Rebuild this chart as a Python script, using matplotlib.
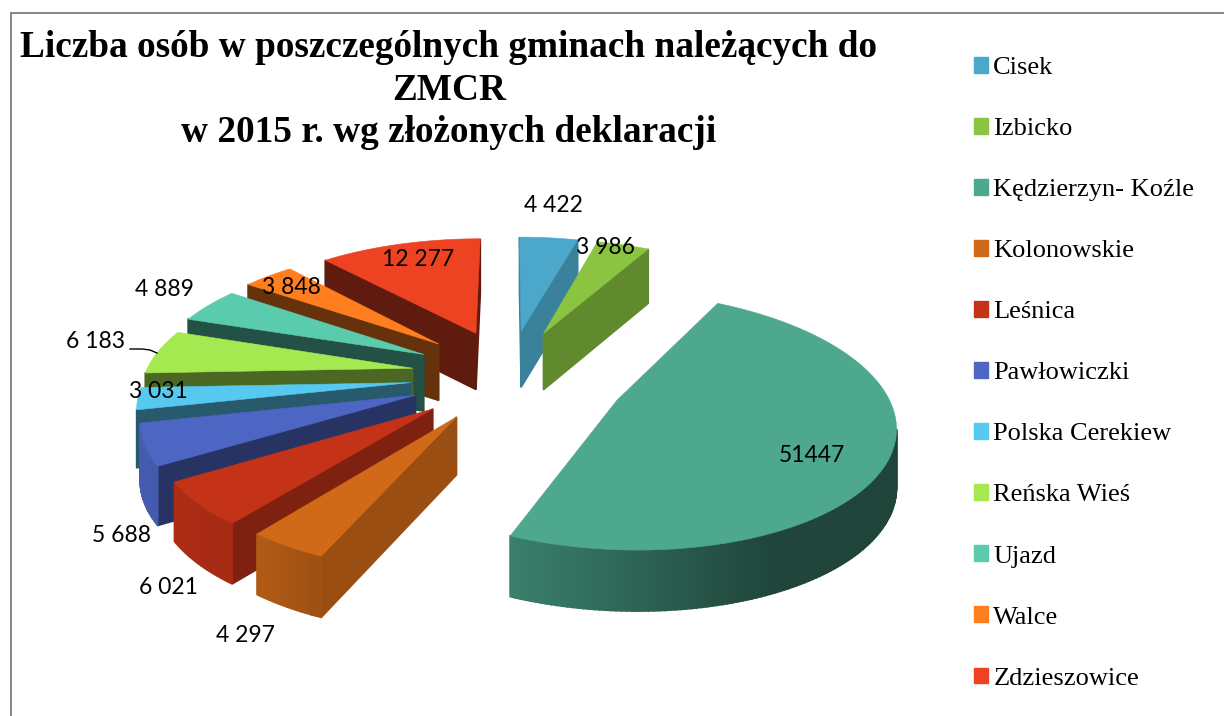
#!/usr/bin/env python3
import matplotlib

matplotlib.use('Agg')
import matplotlib.pyplot as plt
import numpy as np
from matplotlib.colors import to_rgb
from matplotlib.patches import Patch, Polygon

gminy = ['Cisek', 'Izbicko', 'Kędzierzyn- Koźle', 'Kolonowskie', 'Leśnica', 'Pawłowiczki',
         'Polska Cerekiew', 'Reńska Wieś', 'Ujazd', 'Walce', 'Zdzieszowice']
osoby = [4422, 3986, 51447, 4297, 6021, 5688, 3031, 6183, 4889, 3848, 12277]
etykiety = ['4 422', '3 986', '51447', '4 297', '6 021', '5 688', '3 031', '6 183', '4 889', '3 848', '12 277']

kolory = ['#4BA8CB', '#8AC441', '#4DA88E', '#D06A18', '#C43218', '#4D66C4',
          '#57C8F0', '#A5E84F', '#5BCBAE', '#FF7E1F', '#EE4322']
# how dark the flat cut faces are, per slice
side_shade = [0.77, 0.70, 0.45, 0.74, 0.65, 0.50, 0.45, 0.45, 0.40, 0.40, 0.40]
explode = [0.36, 0.36, 0.425, 0.36, 0.36, 0.36, 0.36, 0.36, 0.36, 0.36, 0.36]
# slice size and small shift towards the viewer, the original is not a perfect camera
radius = [1.0, 1.0, 0.966, 0.95, 0.95, 0.96, 0.97, 0.98, 1.0, 1.0, 1.0]
nudge = [0.0, 0.0, 0.04, 0.04, 0.05, 0.05, 0.04, 0.02, 0.015, 0.0, 0.0]

# label centres in pixels
label_pos = [(553, 206), (605, 248), (812, 455), (245, 635), (168, 588), (121, 535),
             (158, 392), (95, 341), (164, 289), (291, 287), (418, 259)]

# 3d pie camera, fitted to the picture
CX, CY = 509, 372
A, B = 272, 121
K = 0.16


def project(x, z, down=False):
    s = 1 / (1 + K * z)
    sx = CX + A * x * s
    sy = CY - B * z * s
    if down:
        sy = sy + 40 + 17 * s
    return sx, sy


def rim_shade(u):
    return np.interp(u, [-1, -0.6, -0.4, -0.2, 0.4, 1], [0.9, 0.85, 0.76, 0.68, 0.42, 0.40])


def shaded(colour, f):
    return tuple(c * f for c in to_rgb(colour))


def visible(p, q, p2, q2):
    pts = np.array([p, q, q2, p2])
    x, y = pts[:, 0], pts[:, 1]
    return 0.5 * np.sum(x * np.roll(y, -1) - np.roll(x, -1) * y) < 0


fig = plt.figure(figsize=(12.24, 7.16), dpi=100)
ax = fig.add_axes([0, 0, 1, 1])
ax.set_xlim(0, 1224)
ax.set_ylim(716, 0)
ax.axis('off')

edges = np.cumsum([0] + osoby) / sum(osoby) * 2 * np.pi
mids = (edges[:-1] + edges[1:]) / 2

# painter's order: slices at the back first
order = sorted(range(len(osoby)), key=lambda i: -explode[i] * np.cos(mids[i]))
for i in order:
    ex = explode[i] * np.sin(mids[i])
    ez = explode[i] * np.cos(mids[i]) - nudge[i]
    t = np.linspace(edges[i], edges[i + 1], max(4, int((edges[i + 1] - edges[i]) * 60)))
    xs = np.r_[ex, ex + radius[i] * np.sin(t)]
    zs = np.r_[ez, ez + radius[i] * np.cos(t)]
    top = [project(a, b) for a, b in zip(xs, zs)]
    low = [project(a, b, True) for a, b in zip(xs, zs)]
    n = len(top)
    for j in range(n):
        k = (j + 1) % n
        if not visible(top[j], top[k], low[j], low[k]):
            continue
        if j == 0 or j == n - 1:
            col = shaded(kolory[i], side_shade[i])
        else:
            col = shaded(kolory[i], rim_shade(np.sin((t[j - 1] + t[j]) / 2)))
        ax.add_patch(Polygon([top[j], top[k], low[k], low[j]], closed=True, fc=col, ec=col, lw=1.2))
    ax.add_patch(Polygon(top, closed=True, fc=kolory[i], ec=kolory[i], lw=0.4))

for txt, (x, y) in zip(etykiety, label_pos):
    ax.text(x, y, txt, ha='center', va='center', fontsize=16.5, family='Lato', color='black')

# leader line of the 6 183 label
ax.plot([130, 142, 150, 157], [349, 349, 350, 353], color='black', lw=1)

# frame, only top and left survive in the crop
ax.plot([11, 11], [716, 12.5], color='#868686', lw=1.4)
ax.plot([11, 1224], [12.5, 12.5], color='#868686', lw=1.4)

ax.text(449, 90, 'Liczba osób w poszczególnych gminach należących do\nZMCR\nw 2015 r. wg złożonych deklaracji',
        ha='center', va='center', fontsize=26.85, fontweight='bold', family='Liberation Serif', linespacing=1.29)

handles = [Patch(fc=c, ec=c) for c in kolory]
ax.legend(handles, gminy, loc='upper left', bbox_to_anchor=(974 / 1224, 1 - 57 / 716), frameon=False,
          prop={'family': 'Liberation Serif', 'size': 19}, labelspacing=1.475,
          handlelength=0.53, handleheight=0.53, handletextpad=0.2, borderpad=0, borderaxespad=0)

fig.savefig('out.png', dpi=100)
